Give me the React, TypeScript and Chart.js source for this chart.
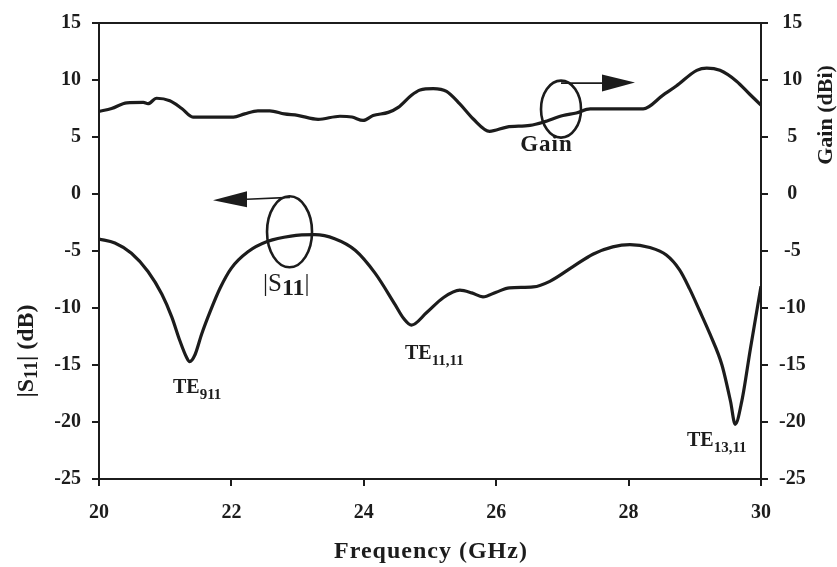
import React, { useEffect, useRef } from "react";
import { Chart, registerables } from "chart.js";

Chart.register(...registerables);

// ---- data ----
const gainFreq = [20.0, 20.19, 20.42, 20.67, 20.74, 20.87, 21.07, 21.25, 21.42, 22.03, 22.2, 22.4, 22.58, 22.8, 23.0, 23.31, 23.64, 23.82, 23.99, 24.14, 24.37, 24.52, 24.72, 24.85, 25.05, 25.25, 25.45, 25.65, 25.9, 26.16, 26.51, 26.71, 27.01, 27.21, 27.42, 28.22, 28.52, 28.72, 29.03, 29.18, 29.38, 29.63, 29.83, 30.0];
const gainDbi = [7.25, 7.5, 8.0, 8.03, 7.92, 8.4, 8.18, 7.5, 6.75, 6.75, 7.03, 7.3, 7.3, 7.03, 6.9, 6.55, 6.82, 6.75, 6.45, 6.88, 7.16, 7.6, 8.67, 9.13, 9.25, 9.0, 7.9, 6.6, 5.5, 5.87, 6.02, 6.3, 6.88, 7.11, 7.46, 7.46, 8.67, 9.47, 10.85, 11.05, 10.85, 9.9, 8.75, 7.8];

const s11Freq = [20.0, 20.24, 20.49, 20.74, 20.95, 21.1, 21.22, 21.32, 21.37, 21.45, 21.55, 21.68, 21.83, 22.0, 22.25, 22.55, 22.9, 23.26, 23.56, 23.87, 24.17, 24.47, 24.6, 24.72, 24.95, 25.2, 25.45, 25.63, 25.8, 26.0, 26.2, 26.56, 26.81, 27.16, 27.46, 27.76, 28.02, 28.32, 28.57, 28.77, 28.92, 29.07, 29.23, 29.41, 29.54, 29.61, 29.71, 29.84, 30.0];
const s11Db = [-3.95, -4.3, -5.2, -6.8, -8.8, -10.8, -12.85, -14.3, -14.7, -14.1, -12.3, -10.3, -8.25, -6.5, -5.07, -4.15, -3.69, -3.57, -3.92, -4.93, -6.94, -9.68, -10.9, -11.5, -10.4, -9.1, -8.44, -8.67, -9.02, -8.61, -8.24, -8.15, -7.66, -6.37, -5.28, -4.64, -4.44, -4.7, -5.36, -6.66, -8.3, -10.2, -12.3, -15.0, -18.2, -20.2, -18.17, -13.57, -8.1];

const freqMin = 20;
const freqMax = 30;
const freqStep = 2;
const dbMin = -25;
const dbMax = 15;
const dbStep = 5;

const xTitle = "Frequency (GHz)";
const rightTitle = "Gain (dBi)";

const FONT = '"Liberation Serif", "Times New Roman", serif';
const INK = "#1c1c1c";

type Part = { t: string; s: number; w: string; dy?: number };

function drawRun(ctx: CanvasRenderingContext2D, x: number, y: number, parts: Part[]) {
  ctx.textAlign = "left";
  ctx.textBaseline = "alphabetic";
  let cx = x;
  for (const p of parts) {
    ctx.font = `${p.w} ${p.s}px ${FONT}`;
    ctx.fillText(p.t, cx, y + (p.dy || 0));
    cx += ctx.measureText(p.t).width;
  }
}

function runWidth(ctx: CanvasRenderingContext2D, parts: Part[]) {
  let w = 0;
  for (const p of parts) {
    ctx.font = `${p.w} ${p.s}px ${FONT}`;
    w += ctx.measureText(p.t).width;
  }
  return w;
}

const annotate = {
  id: "annotate",
  afterDraw(chart: any) {
    const ctx: CanvasRenderingContext2D = chart.ctx;
    const xs = chart.scales.x;
    const ys = chart.scales.y;
    const ca = chart.chartArea;
    const X = (f: number) => xs.getPixelForValue(f);
    const Y = (v: number) => ys.getPixelForValue(v);
    ctx.save();
    ctx.strokeStyle = INK;
    ctx.fillStyle = INK;

    // top frame line
    ctx.lineWidth = 2;
    ctx.beginPath();
    ctx.moveTo(ca.left - 1, ca.top);
    ctx.lineTo(ca.right + 1, ca.top);
    ctx.stroke();

    // ellipses
    ctx.lineWidth = 2.6;
    ctx.beginPath();
    ctx.ellipse(X(22.878), Y(-3.316), 22.5, 35.5, 0, 0, Math.PI * 2);
    ctx.stroke();
    ctx.beginPath();
    ctx.ellipse(X(26.979), Y(7.441), 20, 28.5, 0, 0, Math.PI * 2);
    ctx.stroke();

    // S11 arrow (pointing left)
    ctx.lineWidth = 1.6;
    ctx.beginPath();
    ctx.moveTo(X(22.885), Y(-0.292));
    ctx.lineTo(X(22.236), Y(-0.465));
    ctx.stroke();
    ctx.beginPath();
    ctx.moveTo(X(21.722), Y(-0.551));
    ctx.lineTo(X(22.236), Y(-0.465) - 8);
    ctx.lineTo(X(22.236), Y(-0.465) + 8);
    ctx.closePath();
    ctx.fill();

    // Gain arrow (pointing right)
    ctx.beginPath();
    ctx.moveTo(X(26.979), Y(9.73));
    ctx.lineTo(X(27.598), Y(9.73));
    ctx.stroke();
    ctx.beginPath();
    ctx.moveTo(X(28.097), Y(9.773));
    ctx.lineTo(X(27.598), Y(9.73) - 8.5);
    ctx.lineTo(X(27.598), Y(9.73) + 8.5);
    ctx.closePath();
    ctx.fill();

    // curve labels
    drawRun(ctx, X(22.477), Y(-8.5), [
      { t: "|S", s: 25, w: "normal" },
      { t: "11", s: 24, w: "bold", dy: 4 },
      { t: "|", s: 25, w: "normal" },
    ]);
    ctx.font = `bold 23px ${FONT}`;
    (ctx as any).letterSpacing = "1px";
    ctx.textAlign = "center";
    ctx.textBaseline = "alphabetic";
    ctx.fillText("Gain", X(26.76), Y(3.77));
    (ctx as any).letterSpacing = "0px";

    drawRun(ctx, X(21.118), Y(-17.484), [
      { t: "TE", s: 20, w: "bold" },
      { t: "911", s: 15, w: "bold", dy: 6 },
    ]);
    drawRun(ctx, X(24.622), Y(-14.46), [
      { t: "TE", s: 20, w: "bold" },
      { t: "11,11", s: 15, w: "bold", dy: 6 },
    ]);
    drawRun(ctx, X(28.882), Y(-22.063), [
      { t: "TE", s: 20, w: "bold" },
      { t: "13,11", s: 15, w: "bold", dy: 6 },
    ]);

    // x axis title
    ctx.font = `bold 24px ${FONT}`;
    (ctx as any).letterSpacing = "1px";
    ctx.textAlign = "center";
    ctx.textBaseline = "alphabetic";
    ctx.fillText(xTitle, (ca.left + ca.right) / 2 + 1, 558);
    (ctx as any).letterSpacing = "0px";

    // left axis title (rotated)
    const leftParts: Part[] = [
      { t: "|S", s: 24, w: "bold" },
      { t: "11", s: 19, w: "bold", dy: 4 },
      { t: "| (dB)", s: 24, w: "bold" },
    ];
    ctx.save();
    ctx.translate(33, 351);
    ctx.rotate(-Math.PI / 2);
    const lw = runWidth(ctx, leftParts);
    drawRun(ctx, -lw / 2, 0, leftParts);
    ctx.restore();

    // right axis title (rotated)
    ctx.save();
    ctx.translate(832, 115);
    ctx.rotate(-Math.PI / 2);
    ctx.font = `bold 22px ${FONT}`;
    ctx.textAlign = "center";
    ctx.textBaseline = "alphabetic";
    ctx.fillText(rightTitle, 0, 0);
    ctx.restore();

    ctx.restore();
  },
};

export default function App() {
  const ref = useRef<HTMLCanvasElement | null>(null);

  useEffect(() => {
    document.body.style.margin = "0";
    const canvas = ref.current;
    if (!canvas) return;
    const tickFont = { family: FONT, size: 20, weight: "bold" as const };
    const grid = {
      drawOnChartArea: false,
      drawTicks: true,
      tickLength: 7,
      color: INK,
      lineWidth: 2,
    };
    const border = { display: true, color: INK, width: 2 };
    const chart = new Chart(canvas, {
      type: "line",
      data: {
        datasets: [
          {
            label: "|S11|",
            data: s11Freq.map((f, i) => ({ x: f, y: s11Db[i] })),
            yAxisID: "y",
            borderColor: INK,
            borderWidth: 3.2,
            pointRadius: 0,
            cubicInterpolationMode: "monotone",
            fill: false,
          },
          {
            label: "Gain",
            data: gainFreq.map((f, i) => ({ x: f, y: gainDbi[i] })),
            yAxisID: "y2",
            borderColor: INK,
            borderWidth: 3.2,
            pointRadius: 0,
            cubicInterpolationMode: "monotone",
            fill: false,
          },
        ],
      },
      options: {
        responsive: false,
        animation: false,
        devicePixelRatio: 1,
        layout: { padding: { top: 16, left: 0, right: 0, bottom: 0 } },
        plugins: {
          legend: { display: false },
          tooltip: { enabled: false },
        },
        scales: {
          x: {
            type: "linear",
            min: freqMin,
            max: freqMax,
            ticks: { stepSize: freqStep, font: tickFont, color: INK, padding: 15, maxRotation: 0 },
            grid,
            border,
            afterFit: (s: any) => {
              s.height = 88;
            },
          },
          y: {
            type: "linear",
            position: "left",
            min: dbMin,
            max: dbMax,
            ticks: { stepSize: dbStep, font: tickFont, color: INK, padding: 11 },
            grid,
            border,
            afterFit: (s: any) => {
              s.width = 99;
            },
          },
          y2: {
            type: "linear",
            position: "right",
            min: dbMin,
            max: dbMax,
            ticks: { stepSize: dbStep, font: tickFont, color: INK, padding: 11, crossAlign: "center" },
            grid,
            border,
            afterFit: (s: any) => {
              s.width = 76;
            },
          },
        },
      } as any,
      plugins: [annotate],
    });
    return () => chart.destroy();
  }, []);

  return (
    <div style={{ width: 837, height: 567, background: "#fff" }}>
      <canvas ref={ref} width={837} height={567} style={{ display: "block", width: 837, height: 567 }} />
    </div>
  );
}
